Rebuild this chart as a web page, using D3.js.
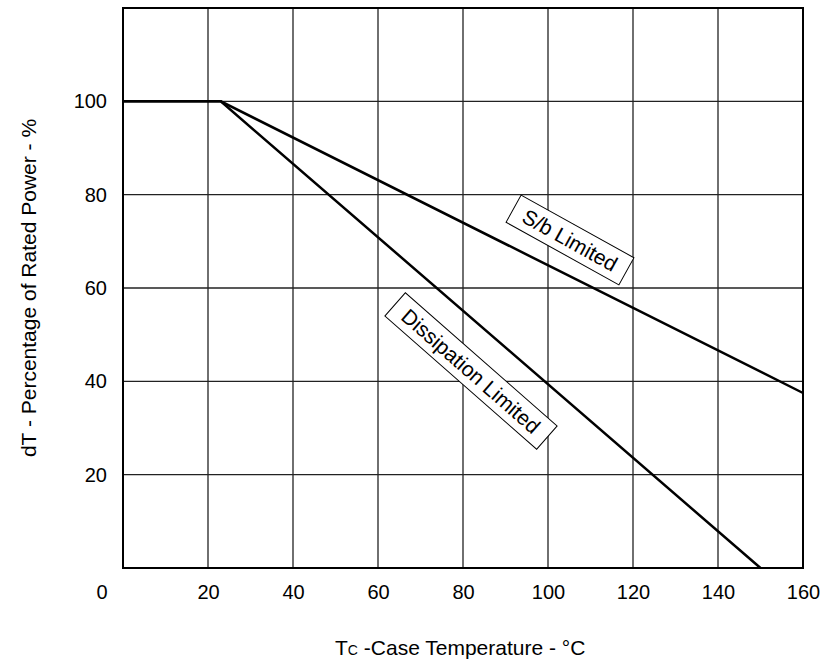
<!DOCTYPE html>
<html><head><meta charset="utf-8">
<script src="https://cdn.jsdelivr.net/npm/d3@7"></script>
<style>body{margin:0;background:#fff}svg{display:block}text{font-family:"Liberation Sans",Arial,sans-serif;fill:#000}</style>
</head><body>
<script>
const xTicks = [20, 40, 60, 80, 100, 120, 140, 160];
const yTicks = [20, 40, 60, 80, 100];
const sbTemp = [0, 23, 160];
const sbPower = [100, 100, 37.5];
const dissTemp = [0, 23, 150];
const dissPower = [100, 100, 0];
const labels = ["S/b Limited", "Dissipation Limited"];

const W = 825, H = 665;
const m = {l: 123, r: 22, t: 8, b: 97};
const svg = d3.select("body").append("svg").attr("width", W).attr("height", H);
const x = d3.scaleLinear().domain([0, 160]).range([m.l, W - m.r]);
const y = d3.scaleLinear().domain([0, 120]).range([H - m.b, m.t]);

const g = svg.append("g");
g.selectAll(".vg").data(xTicks.filter(d => d < 160)).enter().append("line")
  .attr("x1", d => x(d)).attr("x2", d => x(d)).attr("y1", y(0)).attr("y2", y(120))
  .attr("stroke", "#222").attr("stroke-width", 1.3);
g.selectAll(".hg").data(yTicks).enter().append("line")
  .attr("x1", x(0)).attr("x2", x(160)).attr("y1", d => y(d)).attr("y2", d => y(d))
  .attr("stroke", "#222").attr("stroke-width", 1.3);
g.append("rect").attr("x", x(0)).attr("y", y(120)).attr("width", x(160) - x(0)).attr("height", y(0) - y(120))
  .attr("fill", "none").attr("stroke", "#000").attr("stroke-width", 2);

const xAxis = d3.axisBottom(x).tickValues(xTicks).tickSize(0).tickPadding(17);
const xa = svg.append("g").attr("transform", `translate(0,${y(0)})`).call(xAxis);
const yAxis = d3.axisLeft(y).tickValues(yTicks).tickSize(0).tickPadding(16);
const ya = svg.append("g").attr("transform", `translate(${x(0)},0)`).call(yAxis);
[xa, ya].forEach(a => { a.select(".domain").remove(); a.attr("font-size", 20).attr("font-family", "Liberation Sans, Arial, sans-serif"); a.selectAll("text").attr("fill", "#000"); });
svg.append("text").attr("x", 102).attr("y", 599).attr("text-anchor", "middle").attr("font-size", 20).text("0");

const line = d3.line().x(d => x(d[0])).y(d => y(d[1]));
svg.append("path").datum(sbTemp.map((t, i) => [t, sbPower[i]])).attr("d", line)
  .attr("fill", "none").attr("stroke", "#000").attr("stroke-width", 2.5);
svg.append("path").datum(dissTemp.map((t, i) => [t, dissPower[i]])).attr("d", line)
  .attr("fill", "none").attr("stroke", "#000").attr("stroke-width", 2.5);

const lab = [{t: labels[0], cx: 570, cy: 240, a: 29, w: 129, h: 31},
             {t: labels[1], cx: 471, cy: 371, a: 41.3, w: 202, h: 31}];
lab.forEach(l => {
  const lg = svg.append("g").attr("transform", `translate(${l.cx},${l.cy}) rotate(${l.a})`);
  lg.append("rect").attr("x", -l.w / 2).attr("y", -l.h / 2).attr("width", l.w).attr("height", l.h)
    .attr("fill", "#fff").attr("stroke", "#000").attr("stroke-width", 1);
  lg.append("text").attr("text-anchor", "middle").attr("dy", "0.36em").attr("font-size", 21).text(l.t);
});

const xt = svg.append("text").attr("x", 335).attr("y", 655).attr("font-size", 21);
xt.append("tspan").text("T");
xt.append("tspan").attr("font-size", 14).text("C");
xt.append("tspan").text(" -Case Temperature - °C");
svg.append("text").attr("transform", "translate(36,288) rotate(-90)").attr("text-anchor", "middle")
  .attr("font-size", 21).text("dT - Percentage of Rated Power - %");
</script>
</body></html>
